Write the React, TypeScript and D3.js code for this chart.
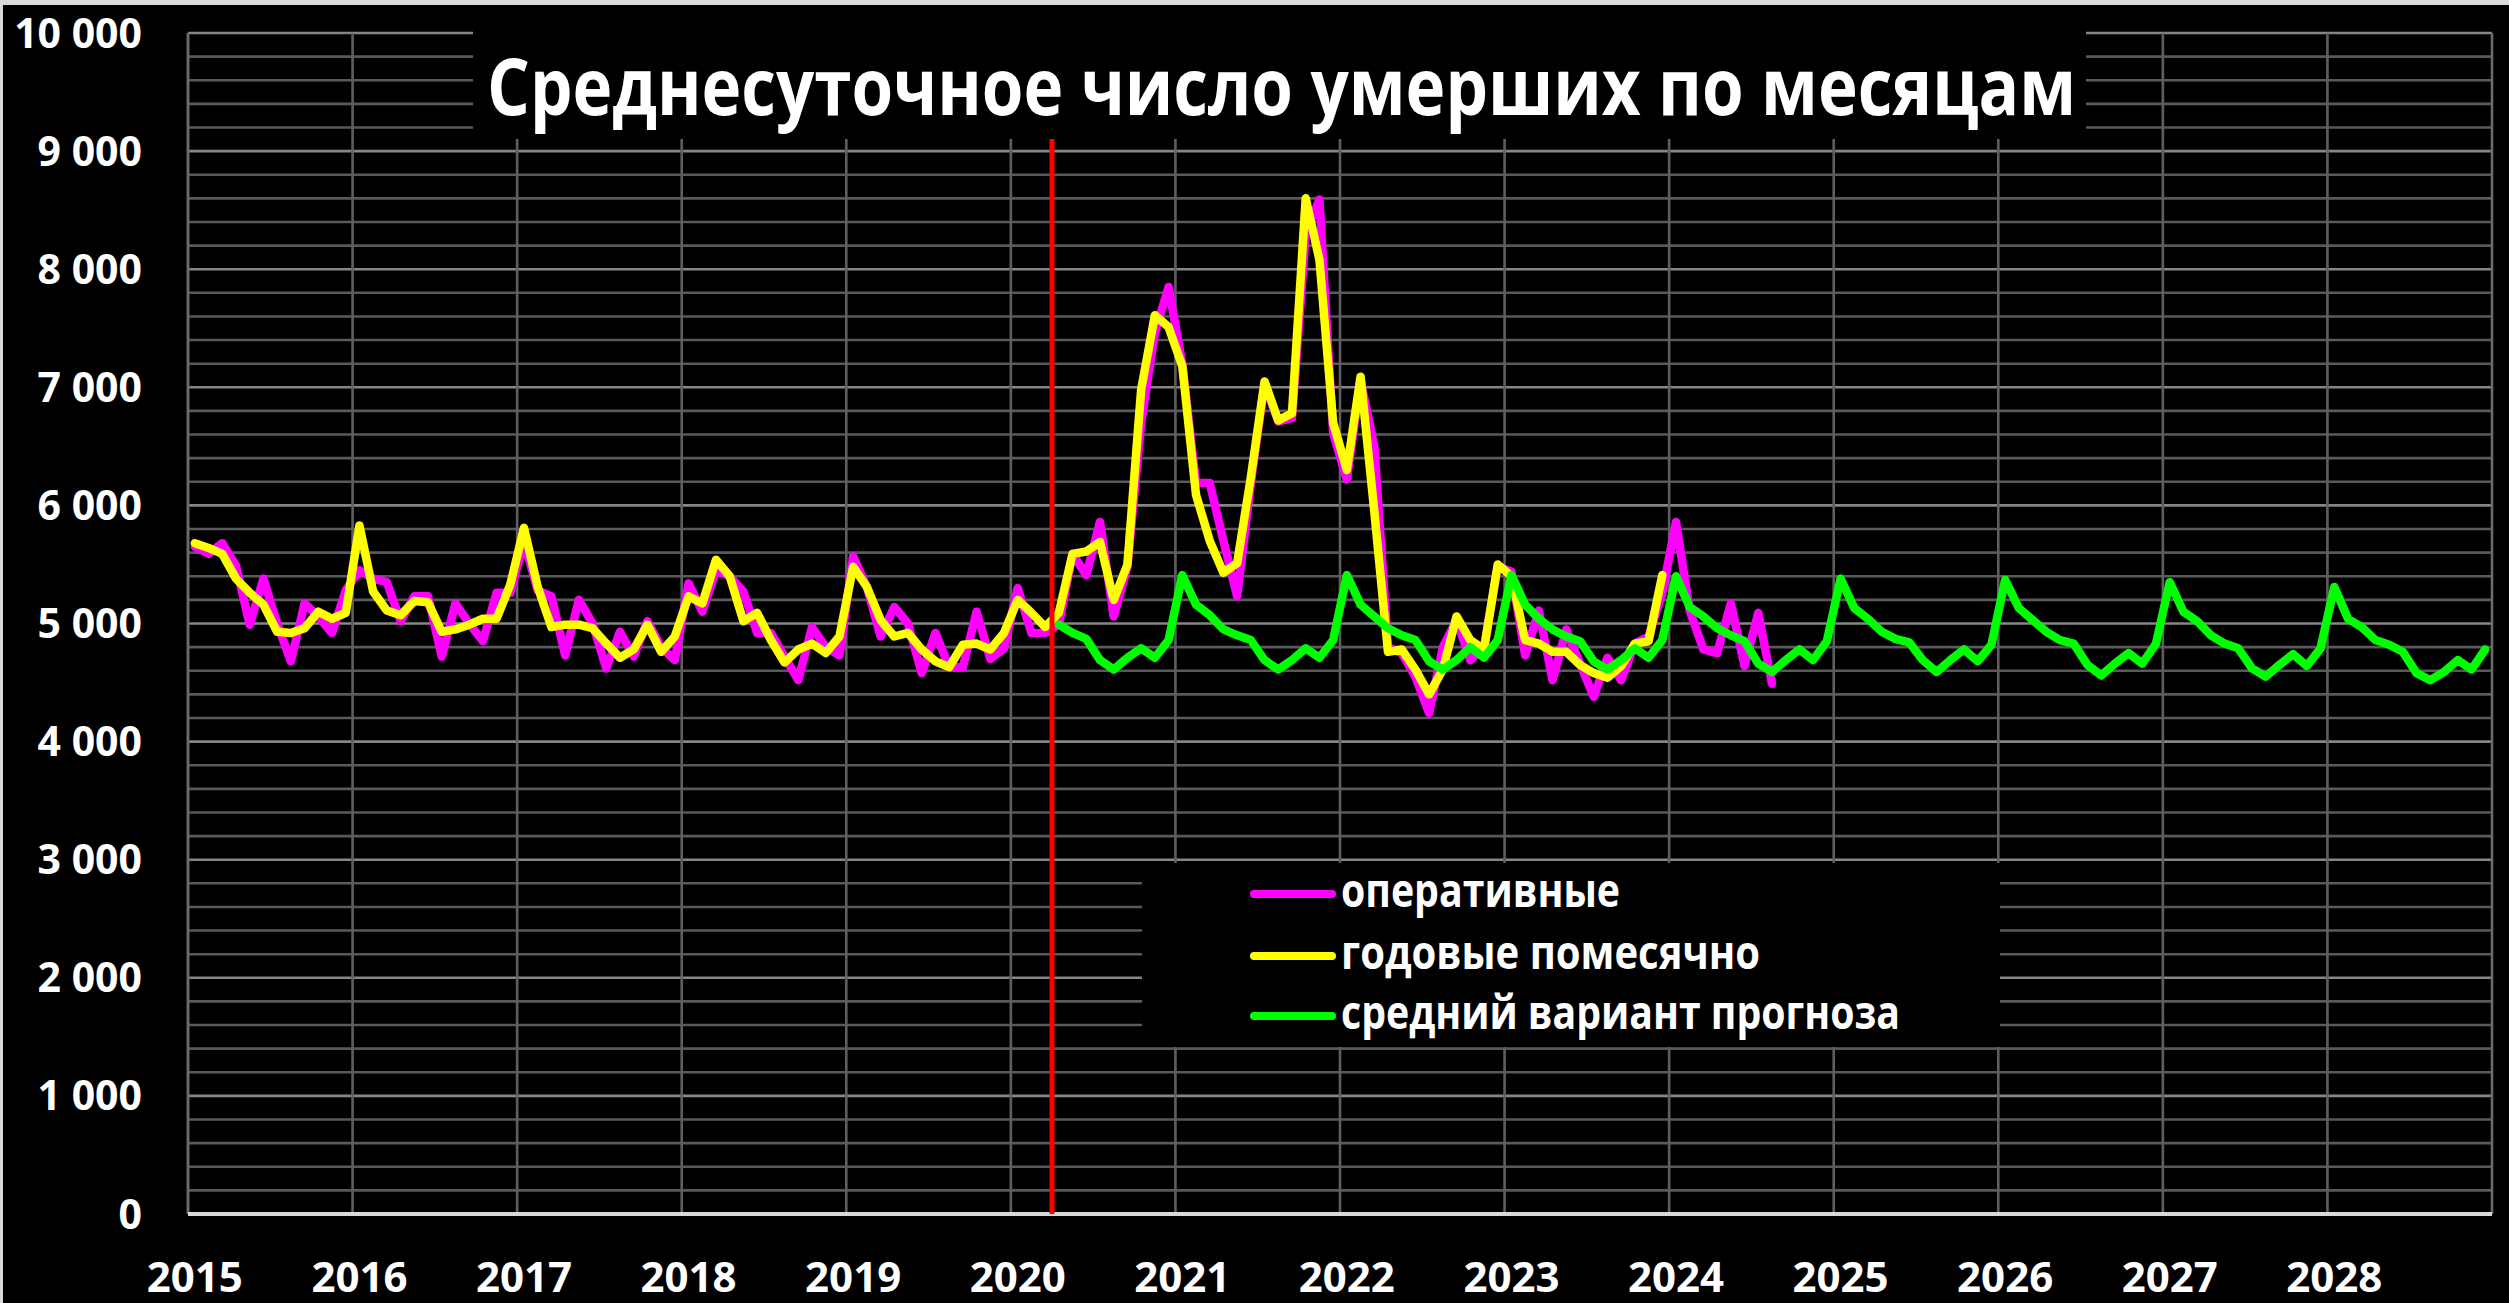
import React from 'react';
import * as d3 from 'd3';

const W = 2509;
const H = 1303;

// categories
const years = [2015, 2016, 2017, 2018, 2019, 2020, 2021, 2022, 2023, 2024, 2025, 2026, 2027, 2028];
const monthCodes = ['01', '02', '03', '04', '05', '06', '07', '08', '09', '10', '11', '12'];
const months = years.flatMap((yr) => monthCodes.map((m) => `${yr}-${m}`));

// tick labels
const yTicks = [0, 1000, 2000, 3000, 4000, 5000, 6000, 7000, 8000, 9000, 10000];

const titleText = 'Среднесуточное число умерших по месяцам';
const seriesNames = ['оперативные', 'годовые помесячно', 'средний вариант прогноза'];
const seriesColors = ['#ff00ff', '#ffff00', '#00ff00'];

// series: оперативные (from 2015-01)
const operativeStart = '2015-01';
const operative = [
  5650, 5590, 5680, 5490, 4990, 5380, 5000, 4680, 5170, 5060, 4920, 5280,
  5450, 5380, 5350, 5020, 5230, 5230, 4720, 5170, 5000, 4850, 5260, 5260,
  5700, 5280, 5230, 4730, 5200, 5000, 4620, 4930, 4720, 5020, 4800, 4690,
  5340, 5100, 5450, 5400, 5270, 4920, 4920, 4720, 4520, 4970, 4800, 4730,
  5570, 5310, 4890, 5140, 5000, 4580, 4920, 4630, 4630, 5100, 4700, 4790,
  5300, 4920, 4920, 4990, 5590, 5410, 5860, 5060, 5480, 6700, 7460, 7850,
  7200, 6190, 6190, 5700, 5230, 6190, 7030, 6710, 6740, 8300, 8590, 6610,
  6220, 7060, 6500, 4800, 4750, 4550, 4240, 4800, 5030, 4690, 4800, 5480,
  5440, 4730, 5110, 4520, 4950, 4660, 4380, 4710, 4520, 4830, 4890, 5260,
  5860, 5110, 4780, 4750, 5170, 4640, 5090, 4490,
];

// series: годовые помесячно (from 2015-01)
const annualStart = '2015-01';
const annual = [
  5680, 5640, 5590, 5380, 5260, 5160, 4930, 4920, 4960, 5100, 5040, 5090,
  5830, 5270, 5110, 5070, 5190, 5180, 4930, 4950, 4990, 5040, 5040, 5330,
  5810, 5310, 4970, 4990, 4990, 4960, 4830, 4710, 4780, 4990, 4760, 4890,
  5230, 5170, 5540, 5400, 5020, 5090, 4860, 4670, 4780, 4830, 4750, 4890,
  5480, 5310, 5030, 4890, 4920, 4780, 4680, 4630, 4820, 4830, 4780, 4920,
  5200, 5090, 4970, 5090, 5590, 5610, 5690, 5200, 5500, 6980, 7610, 7510,
  7180, 6090, 5700, 5430, 5510, 6240, 7050, 6720, 6780, 8600, 8080, 6700,
  6300, 7090, 5950, 4760, 4780, 4610, 4400, 4610, 5060, 4860, 4780, 5500,
  5400, 4860, 4830, 4760, 4760, 4650, 4580, 4540, 4640, 4830, 4850, 5410,
];

// series: средний вариант прогноза (from 2020-04)
const forecastStart = '2020-04';
const forecast = [
  4990, 4920, 4870, 4690, 4610, 4710, 4790, 4710, 4860,
  5410, 5160, 5070, 4950, 4900, 4860, 4690, 4610, 4690, 4790, 4710, 4860,
  5410, 5160, 5060, 4960, 4900, 4860, 4680, 4610, 4690, 4800, 4710, 4860,
  5410, 5160, 5040, 4950, 4890, 4850, 4680, 4610, 4690, 4790, 4710, 4860,
  5400, 5140, 5060, 4960, 4900, 4850, 4660, 4590, 4690, 4780, 4690, 4850,
  5380, 5130, 5040, 4930, 4870, 4840, 4690, 4590, 4690, 4780, 4680, 4820,
  5370, 5130, 5030, 4930, 4860, 4830, 4650, 4560, 4660, 4750, 4660, 4830,
  5350, 5100, 5020, 4900, 4830, 4790, 4620, 4550, 4650, 4740, 4640, 4790,
  5310, 5040, 4970, 4860, 4820, 4760, 4580, 4520, 4590, 4690, 4610, 4780,
];

const markerMonth = '2020-04';

type Pt = { m: string; v: number };

export default function App() {
  const left = 188;
  const right = 2492;
  const top = 33;
  const bottom = 1214;

  const x = d3.scaleBand<string>().domain(months).range([left, right]).padding(0);
  const bw = x.bandwidth();
  const cx = (m: string) => (x(m) as number) + bw / 2;
  const y = d3.scaleLinear().domain([0, 10000]).range([bottom, top]);

  const toPoints = (start: string, vals: number[]): Pt[] => {
    const s = months.indexOf(start);
    return vals.map((v, i) => ({ m: months[s + i], v }));
  };
  const line = d3
    .line<Pt>()
    .x((d) => cx(d.m))
    .y((d) => y(d.v));

  const series = [
    { pts: toPoints(operativeStart, operative), color: seriesColors[0] },
    { pts: toPoints(annualStart, annual), color: seriesColors[1] },
    { pts: toPoints(forecastStart, forecast), color: seriesColors[2] },
  ];

  const fmt = d3
    .formatLocale({ decimal: ',', thousands: ' ', grouping: [3], currency: ['', ''] })
    .format(',d');

  const minorTicks = y.ticks(50);
  const yearStarts = years.map((yr) => `${yr}-01`);
  const markerX = x(markerMonth) as number;

  const font = "'Open Sans', 'Noto Sans', sans-serif";

  const legendRows = [894, 956, 1016];
  const legendWidths = [279, 419, 559];

  return (
    <svg
      width={W}
      height={H}
      viewBox={`0 0 ${W} ${H}`}
      style={{ position: 'absolute', left: 0, top: 0, display: 'block' }}
    >
      <rect x={0} y={0} width={W} height={H} fill="#d9d9d9" />
      <rect x={3} y={5} width={W - 3} height={H - 5} fill="#000000" />

      {/* horizontal gridlines */}
      {minorTicks.map((t) => (
        <line
          key={`h${t}`}
          x1={left}
          x2={right}
          y1={y(t)}
          y2={y(t)}
          stroke={t % 1000 === 0 ? '#868686' : '#5a5a5a'}
          strokeWidth={2.6}
        />
      ))}
      {/* vertical gridlines */}
      {yearStarts.map((m) => (
        <line
          key={`v${m}`}
          x1={x(m)}
          x2={x(m)}
          y1={top}
          y2={bottom}
          stroke="#5f5f5f"
          strokeWidth={2.6}
        />
      ))}
      <line x1={right} x2={right} y1={top} y2={bottom} stroke="#6a6a6a" strokeWidth={2.6} />
      <line x1={left} x2={left} y1={top} y2={bottom} stroke="#6a6a6a" strokeWidth={2.6} />
      <line x1={left} x2={right} y1={bottom} y2={bottom} stroke="#d9d9d9" strokeWidth={4} />

      {/* y labels */}
      {yTicks.map((t) => (
        <text
          key={`yl${t}`}
          x={142}
          y={y(t) + 14.5}
          textAnchor="end"
          fill="#ffffff"
          fontFamily={font}
          fontWeight={700}
          fontSize={41}
        >
          {fmt(t)}
        </text>
      ))}
      {/* x labels */}
      {yearStarts.map((m, i) => (
        <text
          key={`xl${m}`}
          x={cx(m)}
          y={1292}
          textAnchor="middle"
          fill="#ffffff"
          fontFamily={font}
          fontWeight={700}
          fontSize={42}
        >
          {years[i]}
        </text>
      ))}

      {/* series */}
      {series.map((s, i) => (
        <path
          key={`s${i}`}
          d={line(s.pts) || ''}
          fill="none"
          stroke={s.color}
          strokeWidth={8.5}
          strokeLinejoin="round"
          strokeLinecap="round"
        />
      ))}

      {/* marker */}
      <line x1={markerX} x2={markerX} y1={top} y2={bottom} stroke="#ff0000" strokeWidth={5} />

      {/* title */}
      <rect x={473} y={20} width={2086 - 473} height={119} fill="#000000" />
      <text
        x={487}
        y={115}
        fill="#ffffff"
        fontFamily={font}
        fontWeight={700}
        fontSize={78}
        textLength={1589}
        lengthAdjust="spacingAndGlyphs"
      >
        {titleText}
      </text>

      {/* legend */}
      <rect x={1142} y={863} width={2000 - 1142} height={1047 - 863} fill="#000000" />
      {seriesNames.map((name, i) => (
        <g key={`lg${i}`}>
          <line
            x1={1254}
            x2={1332}
            y1={legendRows[i]}
            y2={legendRows[i]}
            stroke={seriesColors[i]}
            strokeWidth={8}
            strokeLinecap="round"
          />
          <text
            x={1341}
            y={legendRows[i] + 13}
            fill="#ffffff"
            fontFamily={font}
            fontWeight={700}
            fontSize={47}
            textLength={legendWidths[i]}
            lengthAdjust="spacingAndGlyphs"
          >
            {name}
          </text>
        </g>
      ))}
    </svg>
  );
}
